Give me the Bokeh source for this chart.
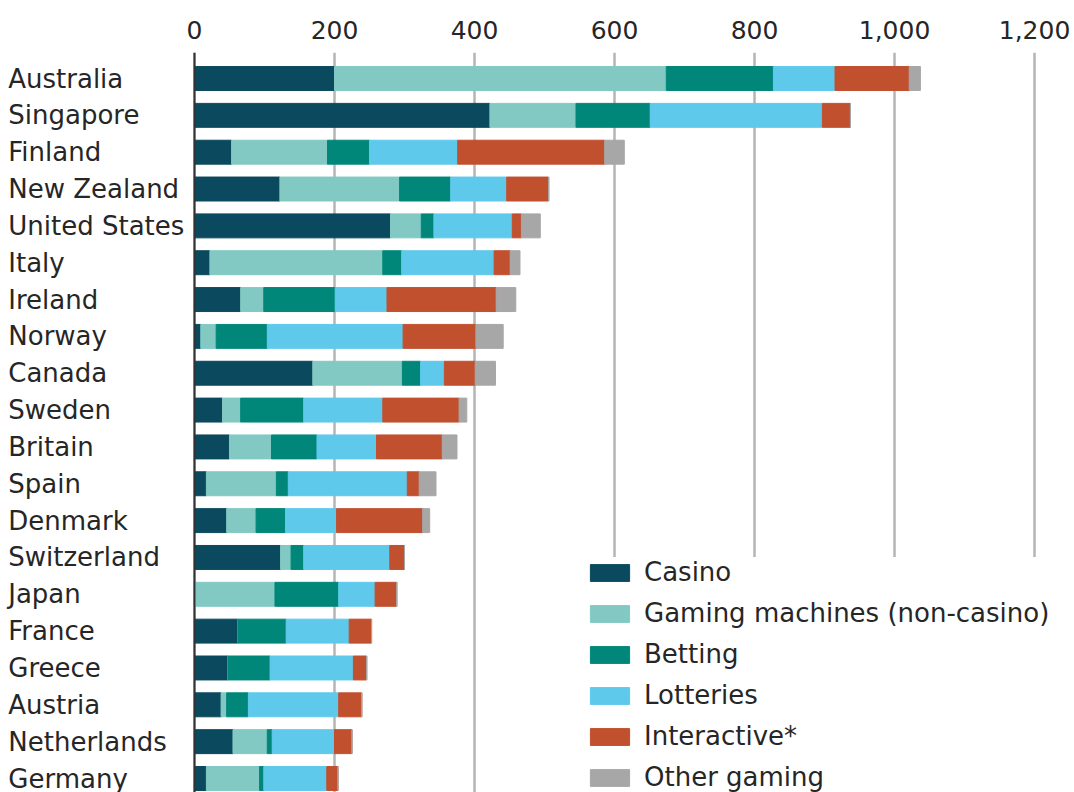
from bokeh.plotting import figure
from bokeh.models import Range1d, FixedTicker, Span, NumeralTickFormatter, ColumnDataSource
from bokeh.core.properties import value
from bokeh.embed import file_html
from bokeh.resources import INLINE

countries = ["Australia", "Singapore", "Finland", "New Zealand", "United States", "Italy",
             "Ireland", "Norway", "Canada", "Sweden", "Britain", "Spain", "Denmark",
             "Switzerland", "Japan", "France", "Greece", "Austria", "Netherlands", "Germany"]

casino      = [200, 422,  53, 122, 280,  22,  66,   9, 169,  40,  50,  17,  46, 123,   0,  62,  48,  38,  55,  17]
gaming      = [474, 123, 137, 171,  44, 247,  33,  22, 128,  26,  60, 100,  42,  15, 115,   0,   0,   8,  49,  76]
betting     = [153, 106,  60,  73,  18,  27, 102,  73,  26,  90,  65,  17,  42,  18,  91,  69,  60,  31,   7,   6]
lotteries   = [ 88, 246, 126,  80, 112, 132,  74, 194,  34, 113,  85, 170,  73, 123,  52,  90, 119, 129,  89,  90]
interactive = [106,  40, 210,  60,  13,  23, 156, 104,  44, 109,  94,  17, 123,  21,  31,  32,  19,  33,  25,  16]
other       = [ 16,   0,  28,   0,  27,  14,  28,  39,  29,  11,  21,  24,  10,   0,   0,   0,   0,   0,   0,   0]

series_keys = ["casino", "gaming", "betting", "lotteries", "interactive", "other"]
series_labels = ["Casino", "Gaming machines (non-casino)", "Betting", "Lotteries",
                 "Interactive*", "Other gaming"]
colors = ["#0b4a5e", "#82c9c3", "#00877a", "#5fc9ec", "#c1502f", "#a7a7a7"]
ticks = [0, 200, 400, 600, 800, 1000, 1200]

n = len(countries)
source = ColumnDataSource(dict(
    y=[n - 1 - i for i in range(n)],
    country=countries,
    casino=casino, gaming=gaming, betting=betting, lotteries=lotteries,
    interactive=interactive, other=other,
))

FONT = "DejaVu Sans"
TEXT = "#262626"

p = figure(width=1074, height=792,
           x_range=Range1d(-277.1, 1257.1), y_range=Range1d(-0.38, 19.706),
           x_axis_location="above", y_axis_location=None,
           toolbar_location=None, output_backend="svg",
           min_border_left=0, min_border_right=0, min_border_bottom=0, min_border_top=52)
p.outline_line_color = None
p.background_fill_color = "white"

p.hbar_stack(series_keys, y="y", height=0.65, color=colors, source=source,
             legend_label=series_labels)

p.text(x=-266, y="y", text="country", source=source,
       text_font=value(FONT), text_font_size="26px", text_baseline="middle",
       text_align="left", text_color=TEXT)

p.add_layout(Span(location=0, dimension="height", line_color="#333333", line_width=2))

ax = p.xaxis[0]
ax.ticker = FixedTicker(ticks=ticks)
ax.formatter = NumeralTickFormatter(format="0,0")
ax.axis_line_color = None
ax.major_tick_line_color = None
ax.minor_tick_line_color = None
ax.major_label_text_font = FONT
ax.major_label_text_font_size = "25px"
ax.major_label_text_color = TEXT
ax.major_label_standoff = 8

p.xgrid.ticker = FixedTicker(ticks=ticks)
p.xgrid.grid_line_color = "#b5b5b5"
p.xgrid.grid_line_width = 2.5
p.ygrid.grid_line_color = None

leg = p.legend[0]
leg.location = (585, 0)
leg.background_fill_color = "white"
leg.background_fill_alpha = 1
leg.border_line_color = None
leg.glyph_width = 49
leg.glyph_height = 21
leg.label_height = 21
leg.label_text_font = FONT
leg.label_text_font_size = "26px"
leg.label_text_color = TEXT
leg.label_text_baseline = "middle"
leg.label_standoff = 10
leg.spacing = 11
leg.padding = 4
leg.margin = 0

open("out.html", "w").write(file_html(p, INLINE))
